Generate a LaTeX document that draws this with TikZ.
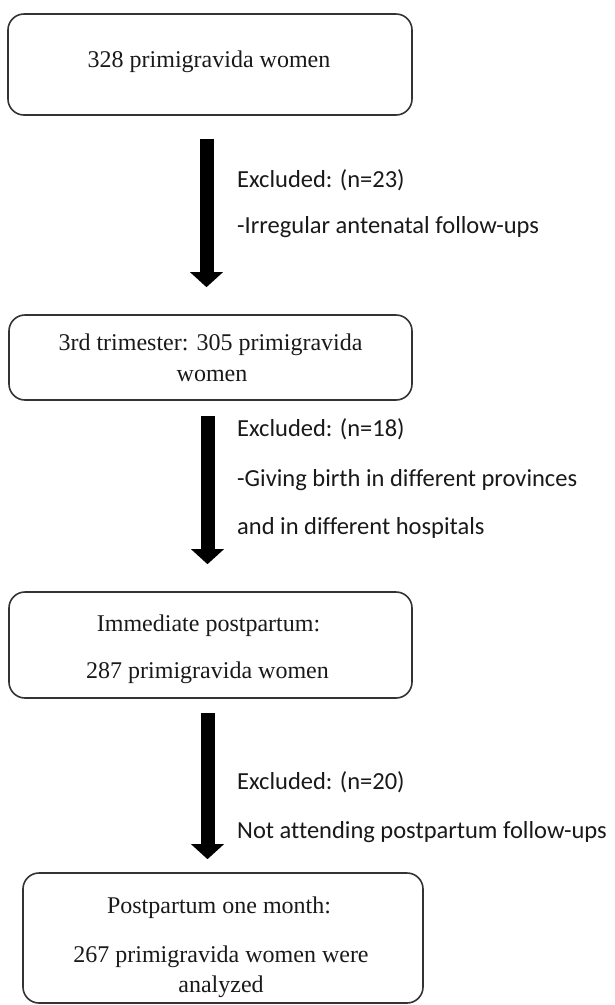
\documentclass[tikz,border=0pt]{standalone}
\usepackage{fontspec}
\setmainfont{Liberation Serif}
\newfontfamily\carlito[Ligatures=NoCommon]{Carlito}
\usetikzlibrary{arrows.meta}
\begin{document}
\begin{tikzpicture}[x=1pt,y=-1pt,
  box/.style={draw=black!80, line width=1.6pt, rounded corners=16pt, inner sep=0pt},
  serif/.style={anchor=base, inner sep=0pt, text=black!90, font=\fontsize{24}{29}\selectfont},
  sans/.style={anchor=base west, inner sep=0pt, text=black!90, font=\carlito\fontsize{24.5}{29}\selectfont},
  bigarrow/.style={line width=14pt, -{Triangle[width=32pt,length=15pt]}}]
\useasboundingbox (0,0) rectangle (614,1005);
% boxes
\node[box, minimum width=404pt, minimum height=101pt] (b1) at (210,64.5) {};
\node[box, minimum width=403pt, minimum height=85pt] (b2) at (210.5,357.5) {};
\node[box, minimum width=403pt, minimum height=106pt] (b3) at (210.5,645) {};
\node[box, minimum width=400pt, minimum height=130pt] (b4) at (223,938) {};
% box texts
\node[serif] (t1) at (209,67) {328 primigravida women};
\node[serif] (t2a) at (210.5,350) {3rd trimester: 305 primigravida};
\node[serif] (t2b) at (212,381) {women};
\node[serif] (t3a) at (208.5,631) {Immediate postpartum:};
\node[serif] (t3b) at (207.5,678) {287 primigravida women};
\node[serif] (t4a) at (219,913) {Postpartum one month:};
\node[serif] (t4b) at (221,962) {267 primigravida women were};
\node[serif] (t4c) at (221,992) {analyzed};
% arrows
\draw[bigarrow, shorten <=23pt, shorten >=27pt] ([xshift=-3.5pt]b1.south) -- ([xshift=-4pt]b2.north);
\draw[bigarrow, shorten <=15pt, shorten >=27pt] ([xshift=-3pt]b2.south) -- ([xshift=-3pt]b3.north);
\draw[bigarrow, shorten <=14pt, shorten >=13pt] ([xshift=-3pt]b3.south) -- ([xshift=-15.5pt]b4.north);
% exclusion labels
\node[sans] (e1a) at (237,187) {Excluded: (n=23)};
\node[sans] (e1b) at (237,233) {-Irregular antenatal follow-ups};
\node[sans] (e2a) at (237,436) {Excluded: (n=18)};
\node[sans] (e2b) at (237,486) {-Giving birth in different provinces};
\node[sans] (e2c) at (237,534) {and in different hospitals};
\node[sans] (e3a) at (237,789) {Excluded: (n=20)};
\node[sans] (e3b) at (237,838) {Not attending postpartum follow-ups};
\end{tikzpicture}
\end{document}
